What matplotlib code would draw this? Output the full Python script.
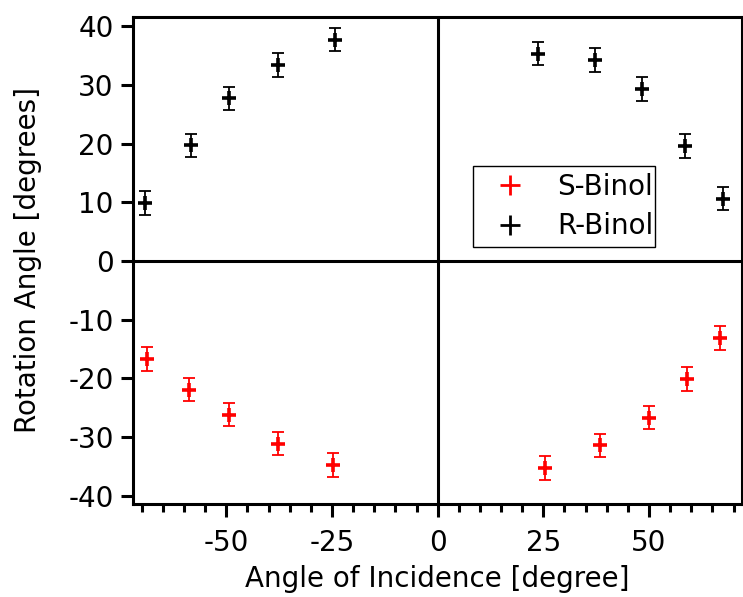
import matplotlib.pyplot as plt
from matplotlib.lines import Line2D
from matplotlib.ticker import MultipleLocator

plt.rcParams['font.family'] = ['DejaVu Sans']
plt.rcParams['axes.unicode_minus'] = False

# S-Binol (red) and R-Binol (black) rotation angles vs angle of incidence
s_x = [-68.8, -58.9, -49.4, -37.8, -24.8, 25.3, 38.4, 49.9, 58.9, 66.9]
s_y = [-16.7, -21.9, -26.2, -31.1, -34.8, -35.3, -31.4, -26.7, -20.1, -13.1]
s_err = [2.0, 2.0, 2.0, 2.0, 2.0, 2.0, 2.0, 2.0, 2.0, 2.0]

r_x = [-69.3, -58.3, -49.3, -37.7, -24.2, 23.8, 37.3, 48.3, 58.5, 67.5]
r_y = [9.9, 19.7, 27.7, 33.4, 37.7, 35.3, 34.2, 29.3, 19.6, 10.6]
r_err = [2.0, 2.0, 2.0, 2.0, 2.0, 2.0, 2.0, 2.0, 2.0, 2.0]

fig = plt.figure(figsize=(7.43, 5.97), dpi=100)
ax = fig.add_axes([0.1794, 0.1558, 0.8193, 0.8162])

handles = []
for xs, ys, es, col, lab in [(s_x, s_y, s_err, 'red', 'S-Binol'),
                             (r_x, r_y, r_err, 'black', 'R-Binol')]:
    ax.errorbar(xs, ys, yerr=es, fmt='none', ecolor=col, elinewidth=1.3,
                capsize=4.5, capthick=1.3)
    ax.plot(xs, ys, ls='none', marker='+', ms=10, mew=2.6, color=col)
    handles.append(Line2D([], [], ls='none', marker='+', ms=15, mew=2.0,
                          color=col, label=lab))

ax.axhline(0, color='black', lw=2.2, zorder=0)
ax.axvline(0, color='black', lw=2.2, zorder=0)

ax.set_xlim(-72, 72)
ax.set_ylim(-41.4, 41.6)
ax.xaxis.set_major_locator(MultipleLocator(25))
ax.xaxis.set_minor_locator(MultipleLocator(5))
ax.yaxis.set_major_locator(MultipleLocator(10))

for sp in ax.spines.values():
    sp.set_linewidth(2.2)
ax.tick_params(axis='both', which='major', direction='out', length=9, width=2.2,
               labelsize=20, pad=5)
ax.tick_params(axis='x', which='minor', direction='out', length=5.5, width=2.2)
ax.tick_params(axis='x', which='major', pad=9)
ax.tick_params(right=False, top=False)

ax.set_xlabel('Angle of Incidence [degree]', fontsize=20, labelpad=6)
ax.set_ylabel('Rotation Angle [degrees]', fontsize=20, labelpad=19)

leg = ax.legend(handles=handles, loc='lower left',
                bbox_to_anchor=(0.5576, 0.527, 0.2994, 0.172),
                mode='expand', fontsize=20, frameon=True, fancybox=False,
                edgecolor='black', framealpha=1, handlelength=2.2,
                handletextpad=0.6, borderpad=0.25, labelspacing=0.4,
                borderaxespad=0)
leg.get_frame().set_linewidth(1.0)

fig.savefig('out.png', dpi=100)
